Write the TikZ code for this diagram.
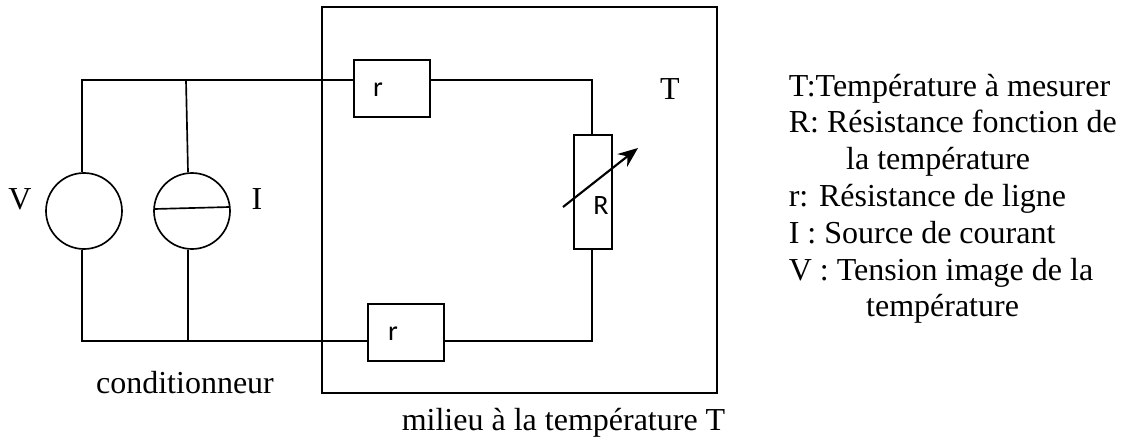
\documentclass[tikz,border=0pt]{standalone}
\usepackage{fontspec}
\setmainfont{Liberation Serif}
\newfontfamily\compfont{Carlito}
\usetikzlibrary{calc,positioning,arrows,arrows.meta}

\begin{document}
\begin{tikzpicture}[x=.75pt,y=-.75pt,
	line width=1.25pt,
	resistor/.style={rectangle,draw,fill=white,inner sep=0pt,minimum width=57pt,minimum height=43pt},
	source/.style={circle,draw,inner sep=0pt,minimum size=57pt},
	complabel/.style={inner sep=0pt,font=\compfont\fontsize{21}{24}\selectfont},
	textlabel/.style={inner sep=0pt,font=\fontsize{24}{27.6}\selectfont},]

	\useasboundingbox (0,0) rectangle (1121,439);

	\node [rectangle,draw,line width=1.5pt,inner sep=0pt,minimum width=295.9pt,minimum height=289.5pt] (milieu) at (519.5,200) {};

	\node [source] (V) at (84,211) {};
	\node [source] (I) at (192,211) {};
	\node [resistor] (r1) at (392,88.5) {};
	\node [resistor] (r2) at (406,332.5) {};
	\node [resistor,minimum width=28.5pt,minimum height=85.5pt] (R) at (593,192) {};

	\coordinate (tl) at (82,80);
	\coordinate (bl) at (82,341);
	\coordinate (tr) at (592,80);
	\coordinate (br) at (592,341);
	\coordinate (tj) at (186,80);
	\coordinate (bj) at (188,341);
	\coordinate (iw) at (154.5,209);
	\coordinate (ie) at (229.5,207);
	\coordinate (as) at (563,207);
	\coordinate (ae) at (638,148);

	\draw (V.north -| tl)--(tl)--(r1.west |- tl);
	\draw (r1.east |- tr)--(tr)--(R.north -| tr);
	\draw (R.south -| br)--(br)--(r2.east |- br);
	\draw (r2.west |- bl)--(bl)--(V.south -| bl);
	\draw (tj)--(I.north -| bj);
	\draw (I.south -| bj)--(bj);
	\draw (iw)--(ie);
	\draw[-{Stealth[length=15pt,width=12pt]},line width=1.6pt] (as)--(ae);

	\node [complabel] (r1t) at (378,90) {r};
	\node [complabel] (r2t) at (393,334) {r};
	\node [complabel] (Rt) at (601,206) {R};

	\node [textlabel,anchor=base] (Vt) at (20,209) {V};
	\node [textlabel,anchor=base] (It) at (257,209) {I};
	\node [textlabel,anchor=base] (Tt) at (670,99) {T};
	\node [textlabel,anchor=base] (cond) at (185,393) {conditionneur};
	\node [textlabel,anchor=base] (milieut) at (563.5,430) {milieu à la température T};

	\node [textlabel,anchor=north west,align=left] (legend) at (788,73) {T:Température à mesurer\\
		R: Résistance fonction de\\
		\hspace*{43pt}la température\\
		r: Résistance de ligne\\
		I : Source de courant\\
		V : Tension image de la\\
		\hspace*{58pt}température};
\end{tikzpicture}
\end{document}
